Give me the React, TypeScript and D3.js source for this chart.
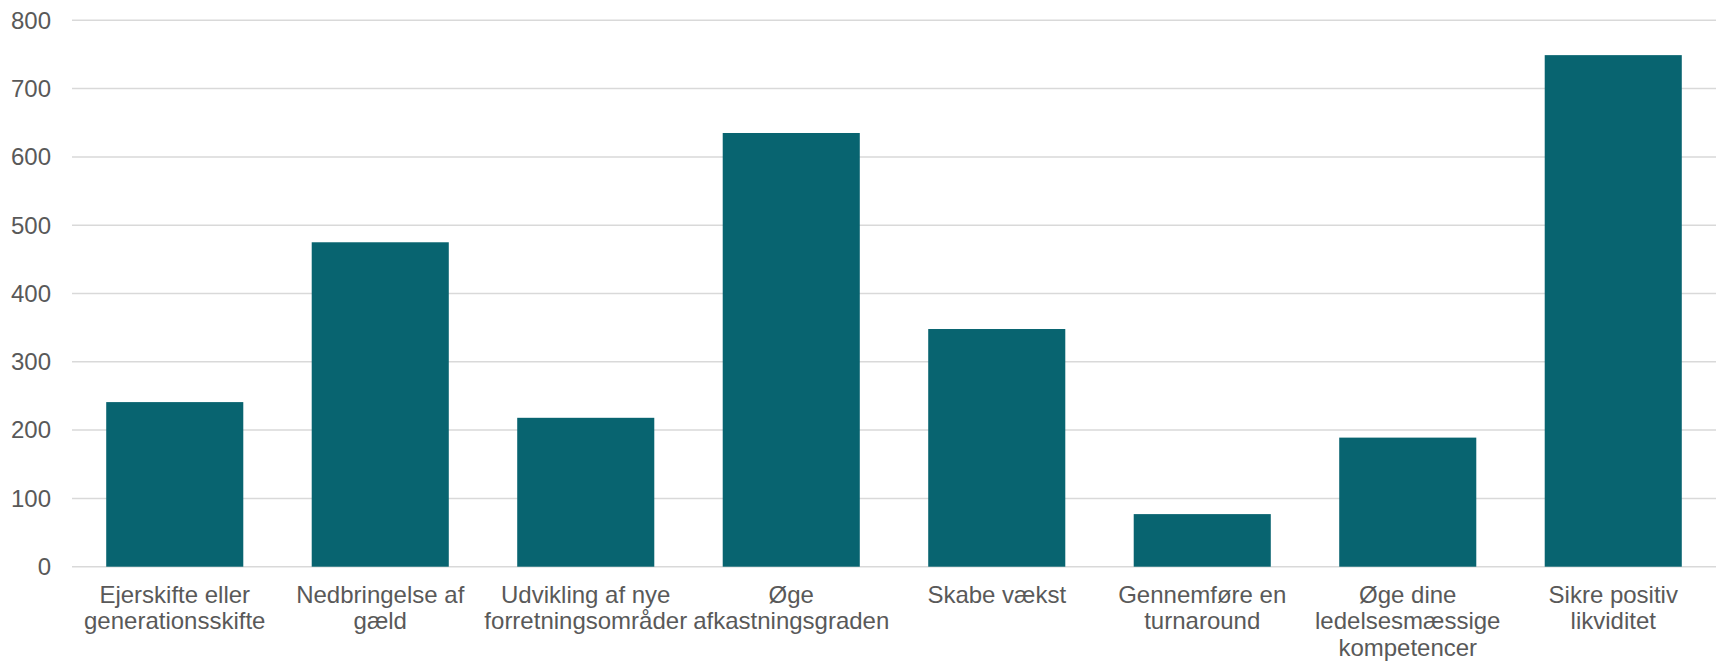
import React from "react";
import * as d3 from "d3";

const categories = [
  "Ejerskifte eller\ngenerationsskifte",
  "Nedbringelse af\ngæld",
  "Udvikling af nye\nforretningsområder",
  "Øge\nafkastningsgraden",
  "Skabe vækst",
  "Gennemføre en\nturnaround",
  "Øge dine\nledelsesmæssige\nkompetencer",
  "Sikre positiv\nlikviditet",
];
const values = [241, 475, 218, 635, 348, 77, 189, 749];
const yTicks = [0, 100, 200, 300, 400, 500, 600, 700, 800];

const W = 1717;
const H = 661;
const M = { left: 72, right: 1716, top: 20.3, bottom: 566.7 };
const FONT = "'Liberation Sans', Arial, sans-serif";
const TEXT = "#595959";
const FS = 24;

export default function App() {
  const x = d3
    .scaleBand<string>()
    .domain(categories)
    .range([M.left, M.right])
    .paddingInner(0.333)
    .paddingOuter(0.1665);
  const y = d3.scaleLinear().domain([0, 800]).range([M.bottom, M.top]);

  return (
    <svg
      width={W}
      height={H}
      style={{ position: "absolute", left: 0, top: 0, background: "#fff" }}
      fontFamily={FONT}
    >
      {yTicks.map((t) => (
        <g key={t}>
          <line
            x1={M.left}
            x2={M.right}
            y1={y(t)}
            y2={y(t)}
            stroke="#d9d9d9"
            strokeWidth={1.5}
          />
          <text
            x={51}
            y={y(t) + 8.3}
            textAnchor="end"
            fontSize={FS}
            fill={TEXT}
          >
            {t}
          </text>
        </g>
      ))}
      {categories.map((c, i) => (
        <rect
          key={c}
          x={x(c)}
          y={y(values[i])}
          width={x.bandwidth()}
          height={y(0) - y(values[i])}
          fill="#086470"
        />
      ))}
      {categories.map((c) => (
        <text
          key={c}
          x={(x(c) as number) + x.bandwidth() / 2}
          y={602.5}
          textAnchor="middle"
          fontSize={FS}
          fill={TEXT}
        >
          {c.split("\n").map((line, j) => (
            <tspan key={j} x={(x(c) as number) + x.bandwidth() / 2} dy={j === 0 ? 0 : 26.8}>
              {line}
            </tspan>
          ))}
        </text>
      ))}
    </svg>
  );
}
